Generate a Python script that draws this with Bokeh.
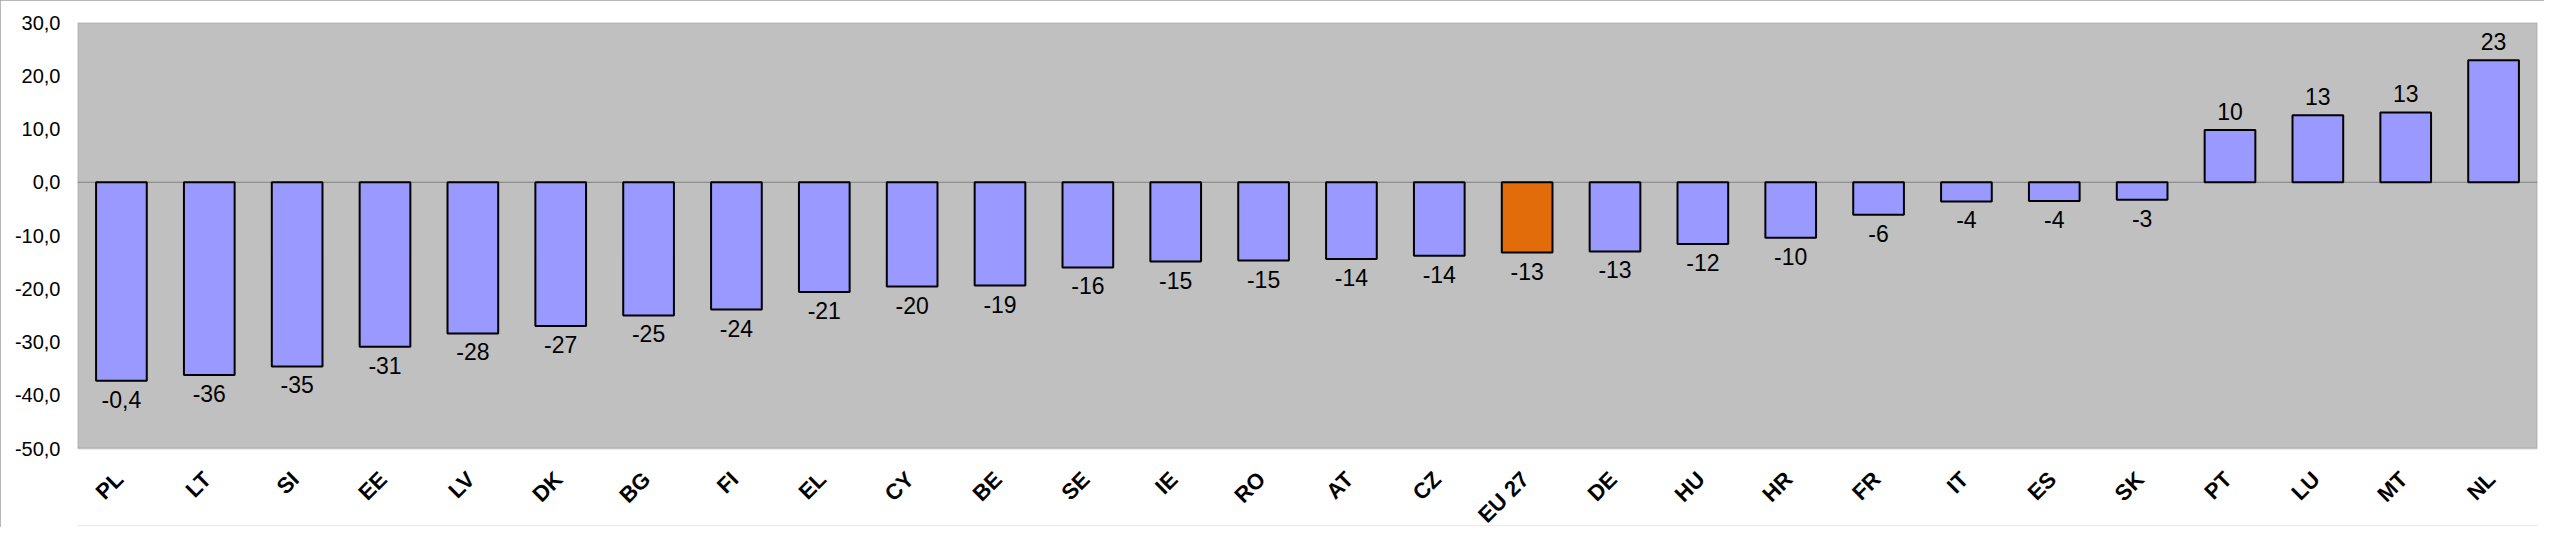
import math
from bokeh.plotting import figure
from bokeh.models import ColumnDataSource, FactorRange, Range1d, FixedTicker, Span, BoxAnnotation
from bokeh.core.properties import value
from bokeh.embed import file_html
from bokeh.resources import INLINE

categories = ["PL", "LT", "SI", "EE", "LV", "DK", "BG", "FI", "EL", "CY", "BE", "SE", "IE", "RO",
              "AT", "CZ", "EU 27", "DE", "HU", "HR", "FR", "IT", "ES", "SK", "PT", "LU", "MT", "NL"]
values = [-37.3, -36.2, -34.6, -30.9, -28.4, -27.0, -25.0, -23.9, -20.6, -19.6, -19.4, -16.0, -14.9, -14.7,
          -14.4, -13.8, -13.2, -13.0, -11.6, -10.4, -6.1, -3.6, -3.5, -3.3, 9.8, 12.6, 13.1, 22.9]
value_labels = ["-0,4", "-36", "-35", "-31", "-28", "-27", "-25", "-24", "-21", "-20", "-19", "-16", "-15", "-15",
                "-14", "-14", "-13", "-13", "-12", "-10", "-6", "-4", "-4", "-3", "10", "13", "13", "23"]
highlight = "EU 27"
y_ticks = [-50, -40, -30, -20, -10, 0, 10, 20, 30]
y_tick_labels = ["-50,0", "-40,0", "-30,0", "-20,0", "-10,0", "0,0", "10,0", "20,0", "30,0"]
Y_MIN, Y_MAX = -50, 30

FONT = "Liberation Sans"
BAR = "#9999FF"
HIGH = "#E36C0A"

# layout (pixels)
W, H = 2544, 527
TOP, LEFT, RIGHT, BOTTOM = 22, 77, 7, 2
PLOT_H = 426                      # height of the grey plotting area
FRAME_H = H - TOP - BOTTOM        # frame extends below the grey area to hold the rotated labels
units_per_px = (Y_MAX - Y_MIN) / PLOT_H
y_lo = Y_MAX - FRAME_H * units_per_px

colors = [HIGH if c == highlight else BAR for c in categories]
src = ColumnDataSource(dict(cat=categories, val=values, lab=value_labels, color=colors))
neg = ColumnDataSource(dict(cat=[c for c, v in zip(categories, values) if v < 0],
                            val=[v for v in values if v < 0],
                            lab=[l for l, v in zip(value_labels, values) if v < 0]))
pos = ColumnDataSource(dict(cat=[c for c, v in zip(categories, values) if v >= 0],
                            val=[v for v in values if v >= 0],
                            lab=[l for l, v in zip(value_labels, values) if v >= 0]))
cat_src = ColumnDataSource(dict(cat=categories, base=[Y_MIN] * len(categories)))

p = figure(width=W, height=H, x_range=FactorRange(*categories), y_range=Range1d(y_lo, Y_MAX),
           output_backend="svg", toolbar_location=None,
           min_border_left=LEFT, min_border_right=RIGHT, min_border_top=TOP, min_border_bottom=BOTTOM)
p.background_fill_color = "white"
p.border_fill_color = "white"
p.outline_line_color = None
p.xgrid.visible = False
p.ygrid.visible = False
p.styles = {"outline": "2px solid #A0A0A0", "outline-offset": "-2px"}

p.add_layout(BoxAnnotation(bottom=Y_MIN, top=Y_MAX, fill_color="#C0C0C0", fill_alpha=1.0,
                           line_color="#808080", line_width=2, level="underlay"))
p.add_layout(Span(location=0, dimension="width", line_color="#808080", line_width=1, level="underlay"))

p.vbar(x="cat", top="val", bottom=0, width=0.577, source=src, fill_color="color",
       line_color="black", line_width=2)

p.text(x="cat", y="val", text="lab", source=neg, text_align="center", text_baseline="top",
       y_offset=10, text_font=value(FONT), text_font_size="23px", text_color="black")
p.text(x="cat", y="val", text="lab", source=pos, text_align="center", text_baseline="bottom",
       y_offset=-10, text_font=value(FONT), text_font_size="23px", text_color="black")

# category labels, rotated 45 degrees below the grey area
p.text(x="cat", y="base", text="cat", source=cat_src, angle=math.pi / 4,
       text_align="right", text_baseline="middle", x_offset=-2, y_offset=27,
       text_font=value(FONT), text_font_style="bold", text_font_size="22px", text_color="black")

p.yaxis.ticker = FixedTicker(ticks=y_ticks)
p.yaxis.major_label_overrides = dict(zip(y_ticks, y_tick_labels))
p.yaxis.major_label_text_font = FONT
p.yaxis.major_label_text_font_size = "20px"
p.yaxis.major_label_text_color = "black"
p.yaxis.major_label_standoff = 17
p.yaxis.axis_line_color = None
p.yaxis.major_tick_line_color = None
p.yaxis.minor_tick_line_color = None
p.yaxis.major_tick_out = 0
p.yaxis.major_tick_in = 0

p.xaxis.visible = False

open("out.html", "w").write(file_html(p, INLINE))
